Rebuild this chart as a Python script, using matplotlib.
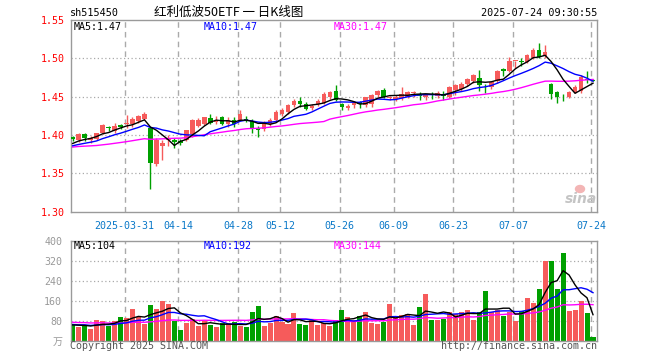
import numpy as np
import pandas as pd
import matplotlib
matplotlib.use("Agg")
import matplotlib.pyplot as plt
from matplotlib.patches import Ellipse

# ---------------- data ----------------
opens = [1.398, 1.393, 1.401, 1.393, 1.395, 1.402, 1.410, 1.405, 1.413, 1.414,
         1.415, 1.418, 1.421, 1.409, 1.362, 1.386, 1.393, 1.393, 1.392, 1.394,
         1.401, 1.412, 1.415, 1.422, 1.417, 1.424, 1.415, 1.420, 1.420, 1.421,
         1.418, 1.409, 1.408, 1.415, 1.420, 1.427, 1.430, 1.439, 1.445, 1.440,
         1.435, 1.440, 1.442, 1.449, 1.458, 1.441, 1.435, 1.439, 1.443, 1.439,
         1.441, 1.452, 1.459, 1.448, 1.447, 1.448, 1.450, 1.455, 1.454, 1.449,
         1.453, 1.451, 1.454, 1.450, 1.459, 1.460, 1.466, 1.470, 1.475, 1.463,
         1.462, 1.470, 1.486, 1.484, 1.496, 1.496, 1.495, 1.500, 1.511, 1.503,
         1.466, 1.456, 1.450, 1.450, 1.456, 1.458, 1.473, 1.472]
highs = [1.399, 1.402, 1.403, 1.399, 1.403, 1.414, 1.412, 1.416, 1.415, 1.426,
         1.424, 1.426, 1.430, 1.410, 1.396, 1.394, 1.400, 1.396, 1.395, 1.407,
         1.421, 1.422, 1.424, 1.427, 1.425, 1.425, 1.423, 1.423, 1.432, 1.425,
         1.421, 1.412, 1.418, 1.422, 1.432, 1.435, 1.441, 1.447, 1.449, 1.443,
         1.440, 1.447, 1.456, 1.457, 1.465, 1.442, 1.440, 1.444, 1.444, 1.450,
         1.453, 1.459, 1.461, 1.451, 1.452, 1.462, 1.458, 1.457, 1.456, 1.454,
         1.456, 1.457, 1.457, 1.464, 1.467, 1.469, 1.475, 1.480, 1.485, 1.466,
         1.470, 1.485, 1.488, 1.502, 1.497, 1.501, 1.506, 1.514, 1.520, 1.517,
         1.468, 1.457, 1.453, 1.458, 1.465, 1.478, 1.483, 1.473]
lows = [1.392, 1.391, 1.392, 1.390, 1.393, 1.401, 1.405, 1.403, 1.408, 1.409,
        1.410, 1.416, 1.419, 1.330, 1.360, 1.367, 1.386, 1.383, 1.387, 1.392,
        1.398, 1.410, 1.413, 1.414, 1.414, 1.413, 1.410, 1.411, 1.418, 1.417,
        1.403, 1.397, 1.405, 1.412, 1.418, 1.425, 1.428, 1.437, 1.437, 1.432,
        1.433, 1.438, 1.440, 1.447, 1.445, 1.432, 1.433, 1.435, 1.435, 1.437,
        1.437, 1.450, 1.448, 1.446, 1.445, 1.446, 1.448, 1.449, 1.446, 1.446,
        1.447, 1.448, 1.446, 1.448, 1.452, 1.457, 1.464, 1.468, 1.458, 1.455,
        1.460, 1.468, 1.477, 1.482, 1.488, 1.490, 1.494, 1.499, 1.500, 1.500,
        1.447, 1.442, 1.444, 1.448, 1.455, 1.455, 1.468, 1.470]
closes = [1.395, 1.401, 1.396, 1.396, 1.402, 1.413, 1.409, 1.412, 1.410, 1.415,
          1.421, 1.425, 1.428, 1.363, 1.394, 1.390, 1.394, 1.391, 1.390, 1.406,
          1.419, 1.420, 1.423, 1.416, 1.419, 1.415, 1.420, 1.415, 1.427, 1.420,
          1.408, 1.406, 1.416, 1.420, 1.430, 1.433, 1.439, 1.445, 1.440, 1.434,
          1.438, 1.444, 1.453, 1.456, 1.446, 1.436, 1.438, 1.442, 1.440, 1.449,
          1.452, 1.457, 1.450, 1.449, 1.450, 1.454, 1.456, 1.456, 1.451, 1.452,
          1.452, 1.455, 1.451, 1.462, 1.465, 1.466, 1.473, 1.478, 1.465, 1.462,
          1.469, 1.484, 1.484, 1.497, 1.497, 1.495, 1.504, 1.511, 1.502, 1.508,
          1.454, 1.450, 1.449, 1.456, 1.463, 1.476, 1.472, 1.471]
volumes = [63, 55, 63, 47, 83, 79, 59, 80, 95, 91,
           127, 93, 67, 143, 127, 160, 147, 80, 43, 72,
           85, 60, 80, 63, 55, 69, 65, 75, 60, 55,
           115, 139, 59, 71, 99, 75, 67, 111, 65, 63,
           83, 63, 71, 59, 83, 123, 93, 83, 99, 115,
           71, 67, 76, 147, 93, 103, 107, 63, 135, 185,
           83, 83, 88, 115, 107, 115, 123, 83, 115, 197,
           115, 123, 100, 115, 80, 120, 170, 150, 205, 319,
           319, 207, 351, 118, 121, 158, 110, 13]
# closes / volumes before the visible window (estimated from where the MA lines start)
prior_closes = [1.379, 1.382, 1.385, 1.388, 1.386, 1.383, 1.380, 1.378, 1.381, 1.384,
                1.386, 1.389, 1.387, 1.384, 1.382, 1.380, 1.383, 1.385, 1.384, 1.383,
                1.384, 1.381, 1.382, 1.385, 1.383, 1.385, 1.386, 1.389, 1.390]
prior_volumes = [85, 72, 90, 68, 79, 83, 70, 95, 74, 66,
                 81, 77, 88, 69, 73, 80, 71, 84, 76, 79,
                 70, 62, 72, 64, 67, 60, 68, 58, 66]

holidays = ["2025-04-04", "2025-05-01", "2025-05-02", "2025-05-05", "2025-06-02"]
dates = [d.strftime("%Y-%m-%d") for d in pd.bdate_range("2025-03-18", "2025-07-24")
         if d.strftime("%Y-%m-%d") not in holidays]
tick_dates = ["2025-03-31", "2025-04-14", "2025-04-28", "2025-05-12", "2025-05-26",
              "2025-06-09", "2025-06-23", "2025-07-07", "2025-07-24"]
tick_labels = ["2025-03-31", "04-14", "04-28", "05-12", "05-26",
               "06-09", "06-23", "07-07", "07-24"]
price_ticks = [1.30, 1.35, 1.40, 1.45, 1.50, 1.55]
vol_ticks = [0, 80, 160, 240, 320, 400]
vol_tick_labels = ["万", "80", "160", "240", "320", "400"]
code = "sh515450"
title = "红利低波50ETF 一 日K线图"
timestamp = "2025-07-24 09:30:55"

# ---------------- derived ----------------
n = len(closes)
x = np.arange(n)
cs = pd.Series(prior_closes + closes)
vs = pd.Series(prior_volumes + volumes, dtype=float)
k = len(prior_closes)
ma = {p: cs.rolling(p).mean().values[k:] for p in (5, 10, 30)}
vma = {p: vs.rolling(p).mean().values[len(prior_volumes):] for p in (5, 10, 30)}
tick_pos = [dates.index(d) - 0.33 for d in tick_dates]

RED = "#f65b5b"
GREEN = "#00a000"
GRID = "#aaaaaa"
FRAME = "#9a9a9a"
MONO = "DejaVu Sans Mono"
ma_colors = {5: "black", 10: "#0000ff", 30: "#ff00ff"}

W, H = 660, 360
fig = plt.figure(figsize=(W / 100, H / 100), dpi=100)
fig.patch.set_facecolor("white")

def frac_box(l, t, r, b):
    return [l / W, 1 - b / H, (r - l) / W, (b - t) / H]

ax = fig.add_axes(frac_box(70.6, 20, 597, 211.7))
axv = fig.add_axes(frac_box(70.6, 240.7, 597, 340.7))
xlim = (-0.35, n - 0.33)

up = np.array(closes) >= np.array(opens)
cols = np.where(up, RED, GREEN)

# ---- price panel ----
for t in price_ticks[1:-1]:
    ax.axhline(t, color=GRID, lw=0.9, ls=(0, (1, 2)), zorder=0)
for p in tick_pos:
    ax.axvline(p, color=GRID, lw=1.0, ls=(0, (4, 3)), zorder=0)
ax.vlines(x, lows, highs, colors=cols, lw=1.0, zorder=2)
body_bottom = np.minimum(opens, closes)
body_h = np.maximum(np.abs(np.array(closes) - np.array(opens)), 0.0012)
ax.bar(x, body_h, bottom=body_bottom, width=0.76, color=cols, linewidth=0, zorder=3)
for p in (30, 10, 5):
    ax.plot(x, ma[p], color=ma_colors[p], lw=1.0, zorder=4)
ax.set_xlim(*xlim)
ax.set_ylim(price_ticks[0], price_ticks[-1])
ax.set_yticks(price_ticks)
ax.set_yticklabels([f"{t:.2f}" for t in price_ticks], color="red", fontsize=7.2, family=MONO)
ax.set_xticks(tick_pos)
ax.set_xticklabels(tick_labels, color="#0a78c8", fontsize=7.2, family=MONO)
ax.tick_params(axis="both", length=0)
ax.tick_params(axis="y", pad=4)
ax.tick_params(axis="x", pad=7)

# ---- volume panel ----
for t in vol_ticks[1:-1]:
    axv.axhline(t, color=GRID, lw=0.9, ls=(0, (1, 2)), zorder=0)
for p in tick_pos:
    axv.axvline(p, color=GRID, lw=1.0, ls=(0, (4, 3)), zorder=0)
axv.bar(x, volumes, width=0.84, color=cols, linewidth=0, zorder=2)
for p in (30, 10, 5):
    axv.plot(x, vma[p], color=ma_colors[p], lw=1.0, zorder=4)
axv.set_xlim(*xlim)
axv.set_ylim(vol_ticks[0], vol_ticks[-1])
axv.set_yticks(vol_ticks)
axv.set_yticklabels(vol_tick_labels, color="#999999", fontsize=7.2,
                    family=[MONO, "Noto Sans CJK SC"])
axv.set_xticks([])
axv.tick_params(axis="both", length=0, pad=6)

for a in (ax, axv):
    for s in a.spines.values():
        s.set_color(FRAME)
        s.set_linewidth(1.0)

# ---- texts ----
def ftext(px, py, s, **kw):
    fig.text(px / W, 1 - py / H, s, **kw)

ftext(70, 13, code, fontsize=7.3, family=MONO, va="center", ha="left")
ftext(229, 12, title, fontsize=9, family=["Noto Sans CJK SC", "DejaVu Sans"],
      va="center", ha="center")
ftext(597, 13, timestamp, fontsize=7.3, family=MONO, va="center", ha="right")

for p, xx in zip((5, 10, 30), (74, 204, 334)):
    ftext(xx, 26.5, f"MA{p}:{ma[p][-1]:.2f}", fontsize=7.2, family=MONO,
          color=ma_colors[p], va="center", ha="left")
    ftext(xx, 246.3, f"MA{p}:{vma[p][-1]:.0f}", fontsize=7.2, family=MONO,
          color=ma_colors[p], va="center", ha="left")

ftext(70, 346, "Copyright 2025 SINA.COM", fontsize=7.2, family=MONO,
      color="#555555", va="center", ha="left")
ftext(597, 346, "http://finance.sina.com.cn", fontsize=7.2, family=MONO,
      color="#555555", va="center", ha="right")

# sina watermark
fig.add_artist(Ellipse((580 / W, 1 - 189 / H), 9 / W, 7 / H,
                       transform=fig.transFigure, color="#f3b5b5", zorder=1))
ftext(581, 199, "sina", fontsize=10, style="italic", weight="bold",
      color="#c4c4c4", va="center", ha="center", zorder=2)

fig.savefig("out.png", dpi=100)
